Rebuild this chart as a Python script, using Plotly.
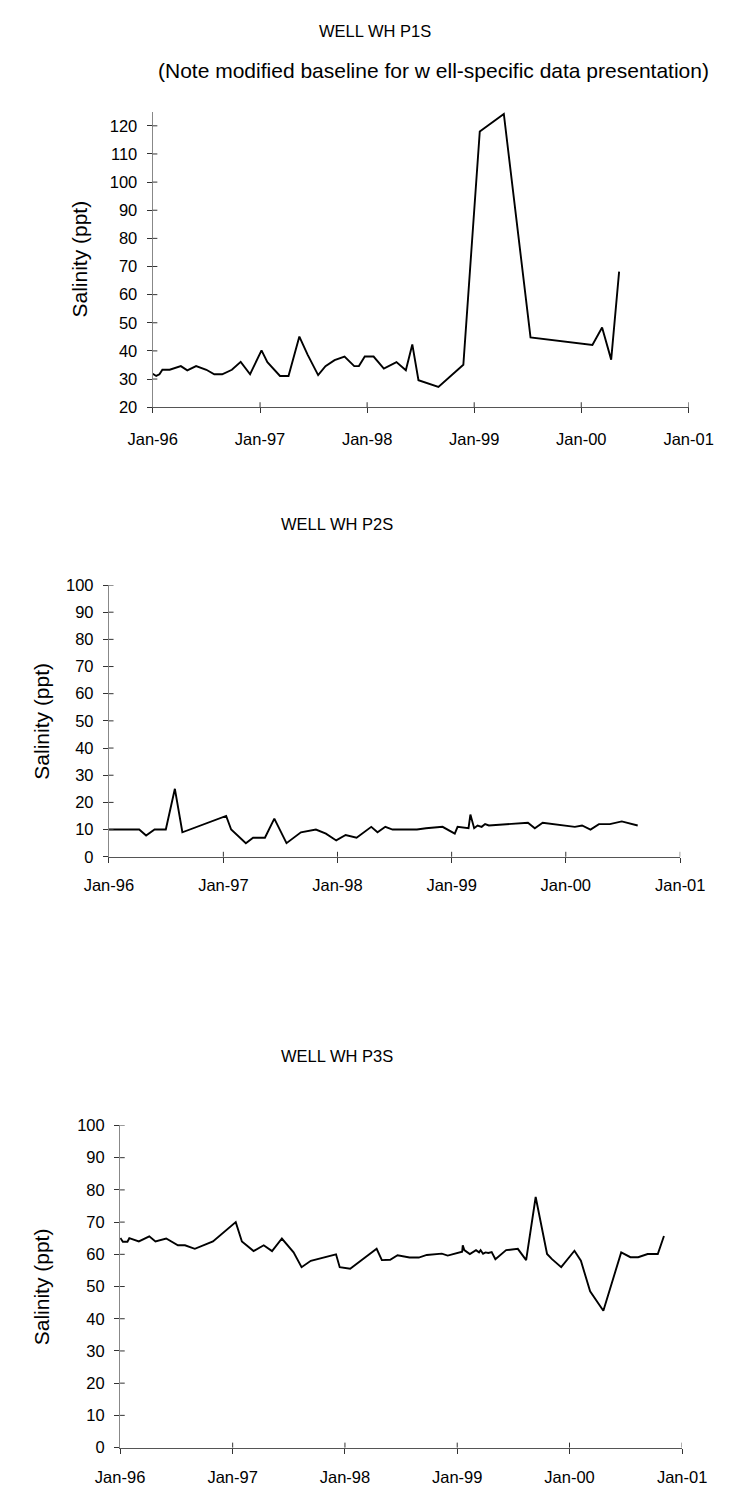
import plotly.graph_objects as go

W, H = 736, 1504
FONT = "Liberation Sans, Arial, sans-serif"

# ---- Well WH P1S (salinity, ppt) ----
p1s_dates = [
    "1996-01-01", "1996-01-13", "1996-01-24", "1996-02-03", "1996-02-28", "1996-04-06",
    "1996-04-28", "1996-05-28", "1996-07-02", "1996-07-29", "1996-08-25", "1996-09-27",
    "1996-10-27", "1996-11-28", "1997-01-06", "1997-01-26", "1997-03-10", "1997-04-08",
    "1997-05-15", "1997-06-12", "1997-07-18", "1997-08-12", "1997-09-12", "1997-10-16",
    "1997-11-18", "1997-12-04", "1997-12-24", "1998-01-23", "1998-02-27", "1998-04-11",
    "1998-05-13", "1998-06-04", "1998-06-25", "1998-09-01", "1998-11-25", "1999-01-20",
    "1999-04-12", "1999-07-12", "2000-02-08", "2000-03-12", "2000-04-12", "2000-05-09",
]
p1s_values = [
    31.9, 31.1, 31.7, 33.3, 33.3, 34.6, 33.1, 34.6, 33.3, 31.7, 31.7, 33.3,
    36.1, 31.7, 40.2, 36.0, 31.1, 31.1, 45.1, 38.7, 31.4, 34.6, 36.7, 38.0,
    34.6, 34.6, 38.0, 38.0, 33.7, 36.0, 33.1, 42.3, 29.6, 27.2, 35.1, 118.0,
    124.2, 44.8, 42.1, 48.3, 36.9, 68.2,
]

# ---- Well WH P2S ----
p2s_dates = [
    "1996-01-01", "1996-04-07", "1996-04-29", "1996-05-26", "1996-07-01", "1996-07-30",
    "1996-08-23", "1997-01-10", "1997-01-26", "1997-03-14", "1997-04-06", "1997-05-14",
    "1997-06-13", "1997-07-22", "1997-09-06", "1997-10-24", "1997-11-25", "1997-12-28",
    "1998-01-27", "1998-03-03", "1998-04-19", "1998-05-09", "1998-06-03", "1998-06-26",
    "1998-09-12", "1998-10-11", "1998-12-03", "1999-01-11", "1999-01-20", "1999-02-13",
    "1999-02-24", "1999-03-02", "1999-03-14", "1999-03-25", "1999-04-07", "1999-04-18",
    "1999-04-30", "1999-09-02", "1999-09-24", "1999-10-19", "2000-01-30", "2000-02-22",
    "2000-03-20", "2000-04-16", "2000-05-21", "2000-06-28", "2000-08-18",
]
p2s_values = [
    10.0, 10.0, 7.8, 10.0, 10.0, 25.0, 9.0, 15.0, 10.0, 5.0, 7.0, 7.0,
    14.0, 5.0, 9.0, 10.0, 8.5, 6.0, 8.0, 7.0, 11.0, 9.0, 11.0, 10.0,
    10.0, 10.5, 11.0, 8.5, 11.0, 10.5, 10.5, 15.5, 10.5, 11.5, 11.0, 12.0,
    11.5, 12.5, 10.5, 12.5, 11.0, 11.5, 10.0, 12.0, 12.0, 13.0, 11.5,
]

# ---- Well WH P3S ----
p3s_dates = [
    "1996-01-02", "1996-01-10", "1996-01-25", "1996-01-31", "1996-03-02", "1996-04-05",
    "1996-04-25", "1996-05-30", "1996-07-07", "1996-07-30", "1996-08-31", "1996-10-29",
    "1997-01-11", "1997-01-31", "1997-03-10", "1997-04-12", "1997-05-09", "1997-06-10",
    "1997-07-18", "1997-08-13", "1997-09-12", "1997-12-03", "1997-12-15", "1998-01-18",
    "1998-04-14", "1998-05-01", "1998-05-28", "1998-06-21", "1998-07-30", "1998-08-29",
    "1998-09-24", "1998-11-12", "1998-12-01", "1998-12-30", "1999-01-17", "1999-01-19",
    "1999-01-24", "1999-02-11", "1999-03-03", "1999-03-13", "1999-03-18", "1999-03-26",
    "1999-04-03", "1999-04-12", "1999-04-23", "1999-05-05", "1999-06-04", "1999-06-09",
    "1999-07-17", "1999-08-13", "1999-09-13", "1999-10-20", "1999-11-05", "1999-12-05",
    "2000-01-17", "2000-02-07", "2000-03-08", "2000-04-20", "2000-06-17", "2000-07-17",
    "2000-08-11", "2000-09-11", "2000-10-14", "2000-11-03",
]
p3s_values = [
    65.1, 63.9, 63.9, 65.0, 64.0, 65.6, 64.0, 64.9, 62.8, 62.8, 61.7, 64.0,
    70.0, 64.0, 61.0, 62.8, 61.0, 64.9, 60.6, 56.0, 58.0, 60.0, 56.0, 55.5,
    61.7, 58.2, 58.3, 59.7, 59.0, 59.0, 59.8, 60.2, 59.6, 60.4, 60.8, 62.8,
    61.3, 60.1, 61.3, 60.6, 61.3, 60.2, 60.6, 60.4, 60.7, 58.5, 60.8, 61.3,
    61.7, 58.2, 77.8, 60.1, 58.5, 56.0, 61.1, 58.0, 48.5, 42.5, 60.6, 59.1,
    59.1, 60.1, 60.1, 65.7,
]

year_ticks = ["1996-01-01", "1997-01-01", "1998-01-01", "1999-01-01", "2000-01-01", "2001-01-01"]
year_labels = ["Jan-96", "Jan-97", "Jan-98", "Jan-99", "Jan-00", "Jan-01"]

wells = [
    # name, dates, values, y range, y ticks, plot box in px (left, right, top, bottom)
    ("WELL WH P1S", p1s_dates, p1s_values, [20, 125], list(range(20, 121, 10)), (137, 712, 104, 403)),
    ("WELL WH P2S", p2s_dates, p2s_values, [0, 100], list(range(0, 101, 10)), (90, 703, 583, 858)),
    ("WELL WH P3S", p3s_dates, p3s_values, [0, 100], list(range(0, 101, 10)), (102, 705, 1130, 1456)),
]
title_pos = [(376, 22), (335, 521), (335, 1060)]
ytitle_x = [58, 18, 18]
xlabel_standoff = [12, 8, 10]


def px_x(v):
    return v / W


def px_y(v):
    return 1 - v / H


fig = go.Figure()
layout = dict(
    width=W, height=H, margin=dict(l=0, r=0, t=0, b=0),
    paper_bgcolor="white", plot_bgcolor="white", showlegend=False,
    font=dict(family=FONT, size=16.5, color="black"),
)
shapes, annotations = [], []
TL = 5  # tick half-length in px

for i, (name, dates, vals, yr, yt, box) in enumerate(wells):
    l, r, t, b = box
    xa = "xaxis" if i == 0 else f"xaxis{i + 1}"
    ya = "yaxis" if i == 0 else f"yaxis{i + 1}"
    xr = "x" if i == 0 else f"x{i + 1}"
    yref = "y" if i == 0 else f"y{i + 1}"
    fig.add_trace(go.Scatter(
        x=dates, y=vals, mode="lines", xaxis=xr, yaxis=yref,
        line=dict(color="black", width=1.9), hoverinfo="skip",
    ))
    layout[xa] = dict(
        domain=[px_x(l), px_x(r)], anchor=yref, type="date",
        range=["1996-01-01", "2001-01-01"], tickvals=year_ticks, ticktext=year_labels,
        ticks="outside", ticklen=TL, tickcolor="#333", tickwidth=1,
        showline=True, linecolor="#555", linewidth=1.2, showgrid=False, zeroline=False,
        ticklabelstandoff=xlabel_standoff[i], tickfont=dict(size=16.5),
    )
    layout[ya] = dict(
        domain=[px_y(b), px_y(t)], anchor=xr, range=yr, tickvals=yt,
        ticks="outside", ticklen=TL, tickcolor="#333", tickwidth=1,
        showline=True, linecolor="#888", linewidth=1.2, showgrid=False, zeroline=False,
        ticklabelstandoff=6, tickfont=dict(size=16.5),
    )
    # inner halves of the crossing tick marks
    hy = TL / (b - t)
    hx = TL / (r - l)
    for d in year_ticks[1:]:
        shapes.append(dict(type="line", xref=xr, yref=f"{yref} domain", x0=d, x1=d,
                           y0=0, y1=hy, line=dict(color="#333", width=1)))
    for v in yt[1:]:
        shapes.append(dict(type="line", xref=f"{xr} domain", yref=yref, x0=0, x1=hx,
                           y0=v, y1=v, line=dict(color="#333", width=1)))
    tx, ty = title_pos[i]
    annotations.append(dict(text=name, x=px_x(tx), y=px_y(ty), xref="paper", yref="paper",
                            xanchor="center", yanchor="middle", showarrow=False,
                            font=dict(size=16.5)))
    annotations.append(dict(text="Salinity (ppt)", textangle=-90, x=px_x(ytitle_x[i]),
                            y=px_y((t + b) / 2), xref="paper", yref="paper",
                            xanchor="center", yanchor="middle", showarrow=False,
                            font=dict(size=21)))

annotations.append(dict(text="(Note modified baseline for w ell-specific data presentation)",
                        x=px_x(736), y=px_y(62), xref="paper", yref="paper",
                        xanchor="right", yanchor="middle", showarrow=False,
                        font=dict(size=21)))

layout["shapes"] = shapes
layout["annotations"] = annotations
fig.update_layout(**layout)
fig.write_html("out.html")
